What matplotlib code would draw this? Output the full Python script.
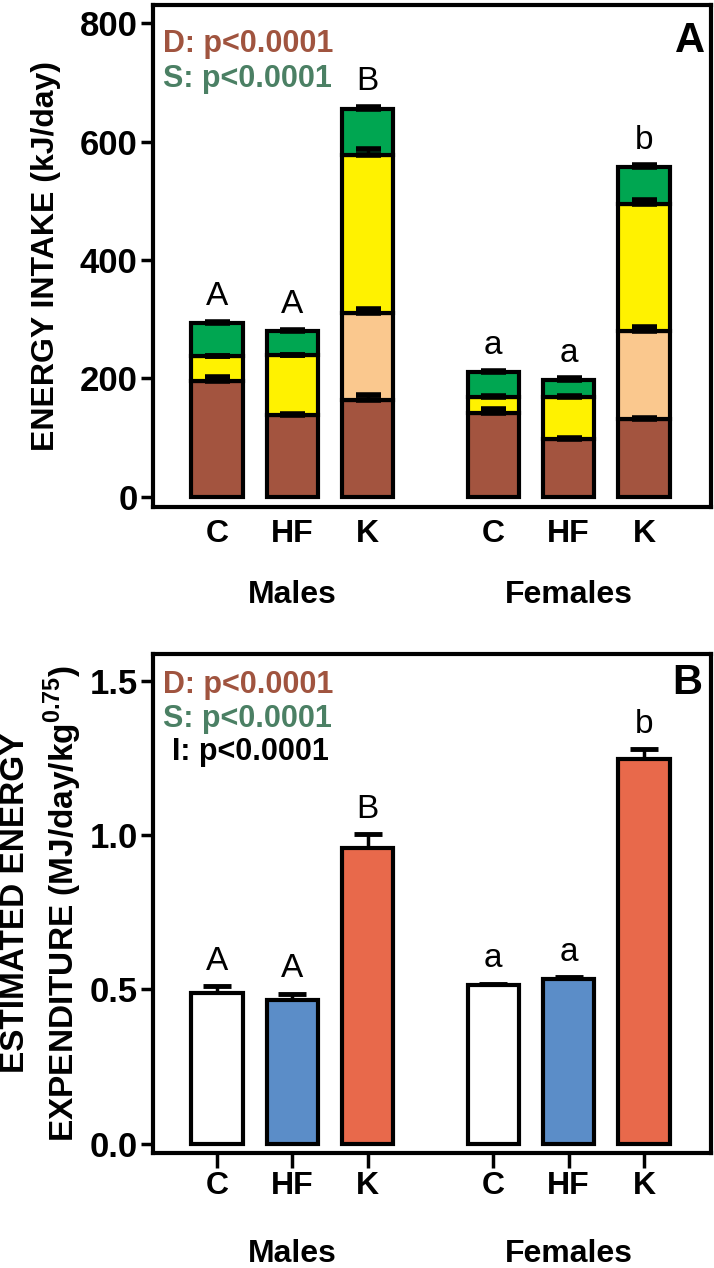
import matplotlib
matplotlib.use("Agg")
import matplotlib.pyplot as plt
import numpy as np

plt.rcParams['font.family'] = ['Liberation Sans', 'DejaVu Sans']
plt.rcParams['mathtext.fontset'] = 'custom'
plt.rcParams['mathtext.rm'] = 'Liberation Sans'

# groups / diets
diets = ["C", "HF", "K", "C", "HF", "K"]
groups = ["Males", "Females"]

# panel A: energy intake (kJ/day), stacked segment heights
brown = [196, 138, 164, 141, 97, 131]
peach = [0, 0, 146, 0, 0, 149]
yellow = [41, 101, 267, 28, 72, 214]
green = [57, 41, 79, 42, 29, 64]
brown_se = [7, 2, 8, 7, 2, 2]
peach_se = [0, 0, 8, 0, 0, 7]
yellow_se = [1, 1, 10, 1, 1, 8]
green_se = [2, 2, 3, 2, 2, 2]
letters_a = ["A", "A", "B", "a", "a", "b"]

# panel B: estimated energy expenditure (MJ/day/kg^0.75)
ee = [0.490, 0.465, 0.958, 0.514, 0.535, 1.246]
ee_se = [0.020, 0.021, 0.045, 0.004, 0.004, 0.032]
letters_b = ["A", "A", "B", "a", "a", "b"]

x = np.array([0, 1, 2, 3.67, 4.67, 5.67])
w = 0.68

fig = plt.figure(figsize=(7.14, 12.68), dpi=100)
W, H = 714, 1268
axA = fig.add_axes([153 / W, 1 - 507 / H, 558 / W, 502 / H])
axB = fig.add_axes([153 / W, 1 - 1153 / H, 558 / W, 499 / H])

c_brown = "#A3543F"
c_peach = "#FAC88E"
c_yellow = "#FFF200"
c_green = "#00A651"
c_d = "#A0543F"
c_s = "#4B8064"

FS = 23

# ---- panel A ----
bottom = np.zeros(6)
tops = []
for h, col in [(brown, c_brown), (peach, c_peach), (yellow, c_yellow), (green, c_green)]:
    h = np.array(h, dtype=float)
    m = h > 0
    axA.bar(x[m], h[m], w, bottom=bottom[m], color=col, edgecolor="black", linewidth=3, zorder=2)
    bottom = bottom + h
    tops.append(bottom.copy())

for top, se in zip(tops, [brown_se, peach_se, yellow_se, green_se]):
    se = np.array(se, dtype=float)
    m = se > 0
    axA.errorbar(x[m], top[m], yerr=[np.zeros(m.sum()), se[m]], fmt="none", ecolor="black",
                 elinewidth=2.5, capsize=9, capthick=4, zorder=3)

for xi, t, lab in zip(x, tops[-1] + np.array(green_se), letters_a):
    axA.annotate(lab, (xi, t), xytext=(0, 12), textcoords="offset points", ha="center", va="baseline",
                 fontsize=24)

axA.set_xlim(-0.85, 6.56)
axA.set_ylim(-17.4, 831)
axA.set_yticks([0, 200, 400, 600, 800])
axA.set_xticks(x)
axA.set_xticklabels(diets)
axA.tick_params(axis="x", length=0, pad=9, labelsize=FS)
axA.tick_params(axis="y", length=9, width=2.5, labelsize=25, pad=2)
for lab in axA.get_xticklabels() + axA.get_yticklabels():
    lab.set_fontweight("bold")
for s in axA.spines.values():
    s.set_linewidth(3)
fig.text(46 / W, 1 - 256 / H, "ENERGY INTAKE (kJ/day)", rotation=90, ha="center", va="center",
         fontsize=FS, fontweight="bold")

axA.text(10 / 558, 0.906, "D: p<0.0001", transform=axA.transAxes, ha="left", va="baseline",
         color=c_d, fontsize=22, fontweight="bold")
axA.text(10 / 558, 0.837, "S: p<0.0001", transform=axA.transAxes, ha="left", va="baseline",
         color=c_s, fontsize=22, fontweight="bold")
axA.text(0.962, 0.928, "A", transform=axA.transAxes, ha="center", va="center",
         fontsize=30, fontweight="bold")
for gx, g in zip([x[1], x[4]], groups):
    axA.text(gx, -0.191, g, transform=axA.get_xaxis_transform(), ha="center", va="baseline",
             fontsize=FS, fontweight="bold")

# ---- panel B ----
axB.bar(x, ee, w, color=["white", "#5B8DC8", "#E8694B"] * 2, edgecolor="black", linewidth=3, zorder=2)
axB.errorbar(x, ee, yerr=[np.zeros(6), ee_se], fmt="none", ecolor="black",
             elinewidth=2.5, capsize=10, capthick=3.5, zorder=1)
for xi, t, lab in zip(x, np.array(ee) + np.array(ee_se), letters_b):
    axB.annotate(lab, (xi, t), xytext=(0, 12), textcoords="offset points", ha="center", va="baseline",
                 fontsize=24)

axB.set_xlim(-0.85, 6.56)
axB.set_ylim(-0.03, 1.587)
axB.set_yticks([0.0, 0.5, 1.0, 1.5])
axB.set_yticklabels(["0.0", "0.5", "1.0", "1.5"])
axB.set_xticks(x)
axB.set_xticklabels(diets)
axB.tick_params(axis="x", length=11, width=2.5, pad=2, labelsize=FS)
axB.tick_params(axis="y", length=9, width=2.5, labelsize=25, pad=2)
for lab in axB.get_xticklabels() + axB.get_yticklabels():
    lab.set_fontweight("bold")
for s in axB.spines.values():
    s.set_linewidth(3)

fig.text(16 / W, 1 - 903 / H, "ESTIMATED ENERGY", rotation=90, ha="center", va="center",
         fontsize=24, fontweight="bold")
fig.text(63 / W, 1 - 903 / H, "EXPENDITURE (MJ/day/kg$^{\\mathregular{0.75}}$)", rotation=90,
         ha="center", va="center", fontsize=24, fontweight="bold")

axB.text(10 / 558, 0.922, "D: p<0.0001", transform=axB.transAxes, ha="left", va="baseline",
         color=c_d, fontsize=22, fontweight="bold")
axB.text(10 / 558, 0.854, "S: p<0.0001", transform=axB.transAxes, ha="left", va="baseline",
         color=c_s, fontsize=22, fontweight="bold")
axB.text(19 / 558, 0.788, "I: p<0.0001", transform=axB.transAxes, ha="left", va="baseline",
         color="black", fontsize=22, fontweight="bold")
axB.text(0.957, 0.942, "B", transform=axB.transAxes, ha="center", va="center",
         fontsize=30, fontweight="bold")
for gx, g in zip([x[1], x[4]], groups):
    axB.text(gx, -0.218, g, transform=axB.get_xaxis_transform(), ha="center", va="baseline",
             fontsize=FS, fontweight="bold")

fig.savefig("out.png", dpi=100)
